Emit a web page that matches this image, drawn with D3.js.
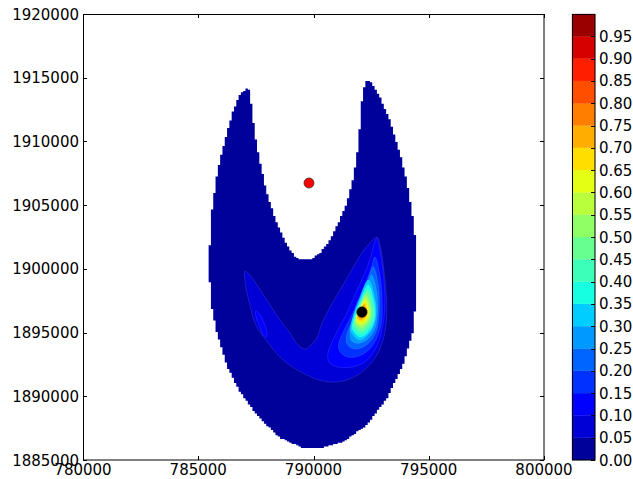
<!DOCTYPE html>
<html><head><meta charset="utf-8">
<script src="https://cdn.jsdelivr.net/npm/d3@7/dist/d3.min.js"></script>
<style>
body{margin:0;background:#fff;}
svg{display:block;}
text{font-family:"DejaVu Sans",sans-serif;font-size:15px;fill:#000;}
</style>
</head><body>
<svg id="chart" width="633" height="479"></svg>
<script>
// ---------------- data ----------------
const xTicks = [780000, 785000, 790000, 795000, 800000];
const yTicks = [1885000, 1890000, 1895000, 1900000, 1905000, 1910000, 1915000, 1920000];
const levels = [0,0.05,0.10,0.15,0.20,0.25,0.30,0.35,0.40,0.45,0.50,0.55,0.60,0.65,0.70,0.75,0.80,0.85,0.90,0.95,1.00];
const cbarTicks = [0,0.05,0.10,0.15,0.20,0.25,0.30,0.35,0.40,0.45,0.50,0.55,0.60,0.65,0.70,0.75,0.80,0.85,0.90,0.95];
const gridStep = 100;

// valid (unmasked) region of the grid, value band 0.00-0.05
const maskBoundary = [[787150,1914200],[786800,1913650],[786500,1912300],[786250,1910750],[786030,1909170],[785810,1907370],[785640,1905250],[785510,1903450],[785490,1900300],[785510,1897700],[785800,1895050],[786230,1892450],[786810,1890330],[787530,1888530],[788550,1886720],[789540,1885940],[790280,1885940],[791280,1886410],[792320,1887750],[793190,1889860],[793880,1892450],[794320,1895050],[794450,1897700],[794480,1900300],[794480,1901250],[794330,1903830],[794040,1906970],[793750,1909090],[793320,1911680],[792880,1913490],[792520,1914590],[792350,1914880],[792230,1914590],[792090,1913020],[791940,1909560],[791730,1907210],[791440,1905170],[791080,1903600],[790720,1902260],[790280,1901240],[789850,1900690],[789270,1900830],[788840,1901870],[788330,1903990],[787970,1906030],[787680,1908390],[787460,1910500],[787320,1912620],[787240,1913880]];

const contour005 = [[787030,1899830],[787050,1898730],[787240,1897160],[787500,1895590],[787970,1894340],[788680,1892850],[789540,1891830],[790500,1891160],[791370,1891240],[792100,1891900],[792750,1893240],[793100,1895040],[793170,1897560],[793060,1899750],[792930,1901480],[792750,1902500],[792450,1902030],[792150,1901400],[791580,1899670],[791150,1898340],[790720,1897000],[790370,1895750],[790140,1894570],[789850,1893950],[789630,1893710],[789330,1894020],[788980,1894970],[788550,1895990],[787970,1897560],[787460,1898970],[787160,1899670]];
const contour010 = [[792740,1902420],[792880,1901480],[793010,1899910],[793100,1897560],[793010,1895590],[792750,1893950],[792280,1892770],[791670,1892300],[791060,1892300],[790670,1892690],[790630,1893400],[790850,1894420],[791150,1895510],[791450,1896530],[791800,1897950],[792150,1899360],[792490,1900930],[792620,1901870]];
const island010 = [[787500,1896690],[787660,1896460],[787850,1895750],[787980,1894970],[787940,1894650],[787790,1894890],[787640,1895590],[787500,1896300]];
const contour015 = [[792670,1900930],[792880,1899520],[792980,1897420],[792930,1895590],[792670,1894280],[792310,1893500],[791870,1893100],[791440,1893100],[791150,1893500],[791080,1894020],[791290,1895070],[791660,1896380],[792090,1898210],[792450,1899780]];
const contour020 = [[792590,1900170],[792810,1898730],[792850,1896640],[792740,1895200],[792450,1894280],[792020,1893760],[791660,1893760],[791440,1894160],[791440,1894810],[791730,1896120],[792090,1897690],[792380,1899260]];
const contour025 = [[792520,1899520],[792740,1898210],[792770,1896380],[792640,1895200],[792310,1894420],[791940,1894160],[791660,1894340],[791580,1894940],[791700,1896050],[792000,1897420],[792350,1898730]];
const contour030 = [[792385,1899124],[792656,1897712],[792710,1896299],[792493,1895122],[792005,1894416],[791626,1895122],[791680,1896064],[792005,1897712]];
const contour035 = [[792374,1898732],[792618,1897508],[792667,1896283],[792472,1895263],[792033,1894651],[791691,1895263],[791740,1896079],[792033,1897508]];
const contour040 = [[792357,1898418],[792579,1897359],[792624,1896299],[792446,1895416],[792046,1894886],[791734,1895416],[791779,1896122],[792046,1897359]];
const contour045 = [[792324,1898183],[792520,1897264],[792559,1896346],[792402,1895581],[792051,1895122],[791778,1895581],[791817,1896193],[792051,1897264]];
const contour050 = [[792292,1897947],[792460,1897170],[792493,1896393],[792359,1895746],[792056,1895357],[791821,1895746],[791855,1896264],[792056,1897170]];
const contour055 = [[792268,1897751],[792420,1897080],[792450,1896409],[792329,1895850],[792055,1895514],[791843,1895850],[791873,1896297],[792055,1897080]];
const contour060 = [[792244,1897555],[792380,1896990],[792407,1896425],[792298,1895954],[792054,1895671],[791864,1895954],[791892,1896330],[792054,1896990]];
const contour065 = [[792220,1897398],[792340,1896927],[792363,1896456],[792268,1896064],[792053,1895828],[791886,1896064],[791910,1896378],[792053,1896927]];
const contour070 = [[792196,1897241],[792299,1896864],[792320,1896487],[792238,1896174],[792052,1895985],[791908,1896174],[791929,1896425],[792052,1896864]];
const contour075 = [[792179,1897084],[792260,1896801],[792277,1896519],[792212,1896283],[792065,1896142],[791951,1896283],[791968,1896472],[792065,1896801]];
const contour080 = [[792162,1896927],[792221,1896739],[792233,1896550],[792185,1896393],[792078,1896299],[791995,1896393],[792007,1896550],[792078,1896739]];

const redPoint = [789804, 1906737];
const blackPoint = [792100, 1896610];

// ---------------- layout ----------------
const svg = d3.select("#chart");
const x = d3.scaleLinear().domain([780000, 800000]).range([83, 544]);
const y = d3.scaleLinear().domain([1885000, 1920000]).range([460, 14]);
const cy = d3.scaleLinear().domain([0, 1]).range([460, 14]);

// matplotlib jet (256 LUT)
const jR = d3.scaleLinear().domain([0,0.35,0.66,0.89,1]).range([0,0,1,1,0.5]).clamp(true);
const jG = d3.scaleLinear().domain([0,0.125,0.375,0.64,0.91,1]).range([0,0,1,1,0,0]).clamp(true);
const jB = d3.scaleLinear().domain([0,0.11,0.34,0.65,1]).range([0.5,1,1,0,0]).clamp(true);
function jet(v){
  const i = Math.min(255, Math.floor(v*256));
  const t = i/255;
  return d3.rgb(Math.round(jR(t)*255), Math.round(jG(t)*255), Math.round(jB(t)*255)).formatHex();
}
const bandColor = i => jet((levels[i]+levels[i+1])/2);

svg.append("rect").attr("width",633).attr("height",479).attr("fill","#fff");

// masked grid region (stair-stepped like the grid cells)
let d = "";
for (let gy = 1885000; gy <= 1920000; gy += gridStep) {
  let runStart = null;
  for (let gx = 784000; gx <= 796100; gx += gridStep) {
    const inside = gx <= 796000 && d3.polygonContains(maskBoundary, [gx, gy]);
    if (inside && runStart === null) runStart = gx;
    if (!inside && runStart !== null) {
      const x0 = x(runStart - gridStep/2), x1 = x(gx - gridStep/2);
      const y0 = y(gy + gridStep/2), y1 = y(gy - gridStep/2);
      d += `M${x0},${y0}H${x1}V${y1}H${x0}Z`;
      runStart = null;
    }
  }
}
svg.append("path").attr("d", d).attr("fill", bandColor(0));

const bands = [
  {level:0.05, shapes:[contour005]},
  {level:0.10, shapes:[contour010, island010]},
  {level:0.15, shapes:[contour015]},
  {level:0.20, shapes:[contour020]},
  {level:0.25, shapes:[contour025]},
  {level:0.30, shapes:[contour030]},
  {level:0.35, shapes:[contour035]},
  {level:0.40, shapes:[contour040]},
  {level:0.45, shapes:[contour045]},
  {level:0.50, shapes:[contour050]},
  {level:0.55, shapes:[contour055]},
  {level:0.60, shapes:[contour060]},
  {level:0.65, shapes:[contour065]},
  {level:0.70, shapes:[contour070]},
  {level:0.75, shapes:[contour075]},
  {level:0.80, shapes:[contour080]}
];
const line = d3.line().x(p => x(p[0])).y(p => y(p[1])).curve(d3.curveCatmullRomClosed.alpha(0.5));
bands.forEach(b => {
  const idx = levels.findIndex(l => Math.abs(l - b.level) < 1e-9);
  b.shapes.forEach(s => {
    svg.append("path").attr("d", line(s))
      .attr("fill", bandColor(idx))
      .attr("stroke", "#ffffff").attr("stroke-opacity", 0.22).attr("stroke-width", 0.5);
  });
});

// points
svg.append("circle").attr("cx", x(redPoint[0])).attr("cy", y(redPoint[1])).attr("r", 5)
  .attr("fill", "#ff0000").attr("stroke", "#222").attr("stroke-width", 0.7);
svg.append("circle").attr("cx", x(blackPoint[0])).attr("cy", y(blackPoint[1])).attr("r", 5.2)
  .attr("fill", "#000").attr("stroke", "#000").attr("stroke-width", 0.5);

// axes frame + inward ticks
const g = svg.append("g").attr("stroke", "#000").attr("stroke-width", 1).attr("fill", "none");
g.append("rect").attr("x", 83.5).attr("y", 14.5).attr("width", 460.5).attr("height", 445.5);
xTicks.forEach(t => {
  const px = Math.round(x(t)) + 0.5;
  g.append("line").attr("x1", px).attr("x2", px).attr("y1", 460).attr("y2", 456);
  g.append("line").attr("x1", px).attr("x2", px).attr("y1", 14).attr("y2", 18);
  svg.append("text").attr("x", x(t)).attr("y", 475).attr("text-anchor", "middle").text(d3.format("d")(t));
});
yTicks.forEach(t => {
  const py = Math.round(y(t)) + 0.5;
  g.append("line").attr("x1", 83).attr("x2", 87).attr("y1", py).attr("y2", py);
  g.append("line").attr("x1", 544).attr("x2", 540).attr("y1", py).attr("y2", py);
  svg.append("text").attr("x", 79).attr("y", y(t) + 5.5).attr("text-anchor", "end").text(d3.format("d")(t));
});

// colorbar
const cb = svg.append("g");
for (let i = 0; i < levels.length - 1; i++) {
  cb.append("rect").attr("x", 572).attr("width", 23)
    .attr("y", cy(levels[i+1])).attr("height", cy(levels[i]) - cy(levels[i+1]))
    .attr("fill", bandColor(i)).attr("stroke", bandColor(i)).attr("stroke-width", 0.3);
}
cb.append("rect").attr("x", 572.5).attr("y", 14.5).attr("width", 22.5).attr("height", 445.5)
  .attr("fill", "none").attr("stroke", "#000").attr("stroke-width", 1);
cbarTicks.forEach(t => {
  const py = Math.round(cy(t)) + 0.5;
  cb.append("line").attr("x1", 591).attr("x2", 595).attr("y1", py).attr("y2", py)
    .attr("stroke", "#000").attr("stroke-width", 1);
  cb.append("text").attr("x", 599).attr("y", cy(t) + 5.5).text(d3.format(".2f")(t));
});
</script>
</body></html>
